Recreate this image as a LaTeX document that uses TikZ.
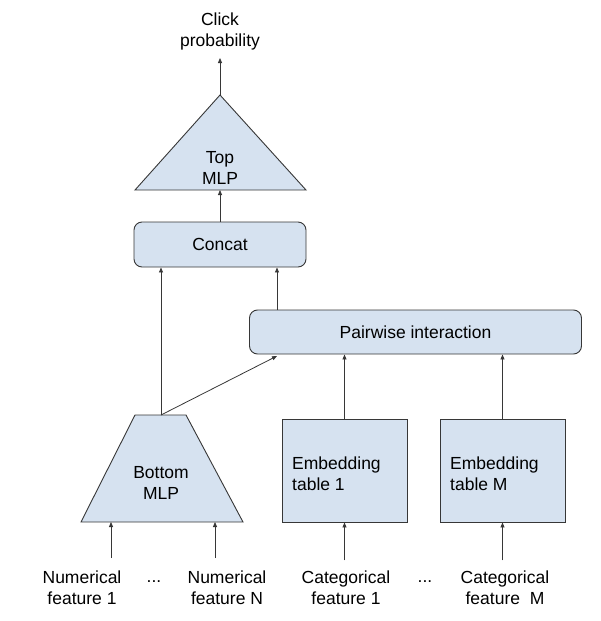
\documentclass[tikz,border=0pt]{standalone}
\usepackage{fontspec}
\setmainfont{Liberation Sans}
\usetikzlibrary{arrows.meta}
\definecolor{boxfill}{RGB}{214,226,240}
\definecolor{edgecol}{RGB}{55,55,55}
\begin{document}
\begin{tikzpicture}[x=1pt,y=-1pt,
  blockfill/.style={draw=edgecol, fill=boxfill, line width=0.9pt},
  lbl/.style={font=\fontsize{17.5}{21}\selectfont, align=center, inner sep=0pt, text=black},
  conn/.style={draw=edgecol, line width=0.8pt, -{Triangle[length=5pt,width=4pt]}}]
\useasboundingbox (0,0) rectangle (600,621);

% Top MLP triangle
\path[blockfill] (135,190) -- (220,95) -- (306,190) -- cycle;
\coordinate (topapex) at (220,95);
\coordinate (topbase) at (220,190);
\node[lbl] (toptext) at (220,168) {Top\\MLP};

% Output label
\node[lbl] (click) at (220,31) {Click\\probability};
\coordinate (clicktip) at (220,58);

% Concat
\node[blockfill, lbl, rounded corners=8pt, minimum width=172pt, minimum height=45pt] (concat) at (220,244.5) {Concat};

% Pairwise interaction
\node[blockfill, lbl, rounded corners=8pt, minimum width=332pt, minimum height=44pt] (pair) at (415.5,332) {Pairwise interaction};
\coordinate (pairtop) at (277,310);
\coordinate (pairbot) at (277,356);

% Bottom MLP trapezoid
\path[blockfill] (81,522) -- (135,415) -- (186,415) -- (243,522) -- cycle;
\coordinate (bmlptop) at (161,415);
\node[lbl] (bmlptext) at (161,482.5) {Bottom\\MLP};

% Embedding tables
\node[blockfill, minimum width=125pt, minimum height=103pt] (emb1) at (344.5,470.5) {};
\node[lbl, align=left, anchor=west] (emb1text) at (292,473.5) {Embedding\\table 1};
\node[blockfill, minimum width=125pt, minimum height=103pt] (embM) at (502.5,470.5) {};
\node[lbl, align=left, anchor=west] (embMtext) at (450,473.5) {Embedding\\table M};

% Input labels
\node[lbl] (num1) at (82,587.5) {Numerical\\feature 1};
\node[lbl] (dots1) at (154,582) {...};
\node[lbl] (numN) at (227,587.5) {Numerical\\feature N};
\node[lbl] (cat1) at (346,587.5) {Categorical\\feature 1};
\node[lbl] (dots2) at (425,582) {...};
\node[lbl] (catM) at (505,587.5) {Categorical\\feature\ \ M};

\coordinate (in1s) at (111,558);
\coordinate (in1e) at (111,522);
\coordinate (inNs) at (215,558);
\coordinate (inNe) at (215,522);

% Connectors
\draw[conn] (topapex) -- (clicktip);
\draw[conn] (concat.north) -- (topbase);
\draw[conn] (bmlptop) -- (bmlptop |- concat.south);
\draw[conn] (pairtop) -- (pairtop |- concat.south);
\draw[conn] (bmlptop) -- (pairbot);
\draw[conn] (emb1.north) -- (emb1.north |- pair.south);
\draw[conn] (embM.north) -- (embM.north |- pair.south);
\draw[conn] (in1s) -- (in1e);
\draw[conn] (inNs) -- (inNe);
\draw[conn] ([yshift=-38pt]emb1.south) -- (emb1.south);
\draw[conn] ([yshift=-38pt]embM.south) -- (embM.south);
\end{tikzpicture}
\end{document}
